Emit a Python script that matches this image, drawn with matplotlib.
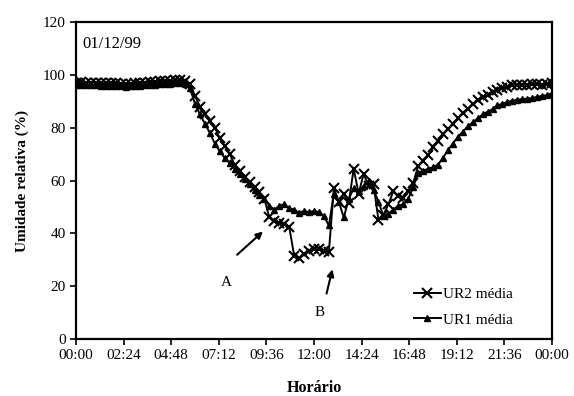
import numpy as np
import matplotlib
matplotlib.use('Agg')
import matplotlib.pyplot as plt

plt.rcParams['font.family'] = ['Liberation Serif', 'DejaVu Serif']

# leituras a cada 15 min, 00:00 ate 24:00
horas = np.arange(0, 24.01, 0.25)

ur2 = [97.0, 97.2, 97.0, 97.1,
       97.0, 96.8, 96.9, 97.0,
       96.8, 96.6, 96.5, 96.6,
       96.8, 97.0, 97.1, 97.3,
       97.4, 97.5, 97.8, 97.6,
       97.9, 98.0, 97.6, 96.5,
       92.0, 88.0, 85.0, 82.5,
       80.0, 76.0, 73.0, 70.0,
       66.0, 63.5, 61.5, 59.5,
       57.5, 55.5, 53.0, 46.0,
       44.5, 44.0, 43.5, 42.5,
       31.5, 30.5, 32.0, 33.5,
       34.0, 34.0, 33.5, 33.0,
       57.0, 52.0, 55.0, 51.5,
       64.5, 55.0, 62.5, 58.0,
       58.5, 45.0, 47.0, 51.0,
       56.0, 54.0, 53.5, 56.0,
       59.0, 65.5, 67.5, 69.5,
       72.5, 75.0, 77.5, 79.5,
       81.5, 83.5, 85.5, 87.2,
       89.0, 90.5, 91.5, 92.5,
       93.5, 94.4, 95.0, 95.5,
       96.0, 96.2, 96.3, 96.2,
       96.4, 96.5, 96.3, 96.6,
       97.0]

ur1 = [96.0, 96.2, 96.0, 96.1,
       96.0, 95.8, 95.8, 95.9,
       95.8, 95.6, 95.5, 95.6,
       95.7, 95.9, 96.0, 96.2,
       96.3, 96.4, 96.6, 96.5,
       96.8, 97.0, 96.5, 95.0,
       89.0, 85.0, 81.5, 78.0,
       74.0, 71.0, 68.5, 66.5,
       64.5, 62.5, 60.5, 58.5,
       56.5, 54.5, 53.0, 50.5,
       49.0, 50.5, 51.0, 49.5,
       49.0, 47.8, 48.5, 48.0,
       48.5, 48.0, 46.5, 43.0,
       55.0, 52.0, 46.0, 53.0,
       57.0, 56.0, 58.0, 60.0,
       56.5, 52.0, 46.5, 47.5,
       49.0, 50.5, 51.0, 53.0,
       57.5, 63.0, 63.5, 64.5,
       65.0, 66.0, 68.5, 71.5,
       74.0, 76.5, 78.5, 80.5,
       82.0, 83.5, 85.0, 86.0,
       87.0, 88.5, 89.0, 89.8,
       90.2, 90.6, 90.8, 91.0,
       91.2, 91.7, 92.0, 92.4,
       93.0]

xticks = [0, 2.4, 4.8, 7.2, 9.6, 12, 14.4, 16.8, 19.2, 21.6, 24]
xlabels = ['00:00', '02:24', '04:48', '07:12', '09:36', '12:00',
           '14:24', '16:48', '19:12', '21:36', '00:00']

fig = plt.figure(figsize=(5.74, 3.96), dpi=100)
ax = fig.add_axes([0.1324, 0.1439, 0.8293, 0.8005])

ax.plot(horas, ur2, color='black', lw=1.4, marker='x', ms=7, mew=1.5,
        label='UR2 média')
ax.plot(horas, ur1, color='black', lw=1.4, marker='^', ms=4.5,
        label='UR1 média')

ax.set_xlim(0, 24)
ax.set_ylim(0, 120)
ax.set_xticks(xticks)
ax.set_xticklabels(xlabels)
ax.set_yticks(range(0, 121, 20))
ax.tick_params(direction='out', length=4, width=1.2, labelsize=11)
for s in ax.spines.values():
    s.set_linewidth(1.6)

ax.set_xlabel('Horário', fontsize=11.5, fontweight='bold', labelpad=13)
ax.set_ylabel('Umidade relativa (%)', fontsize=11, fontweight='bold',
              labelpad=10)

ax.text(0.3, 111.5, '01/12/99', fontsize=12, va='center', ha='left')

ax.annotate('', xy=(9.53, 41.4), xytext=(8.02, 31.2),
            arrowprops=dict(arrowstyle='-|>', color='black', lw=1.5,
                            mutation_scale=10))
ax.annotate('', xy=(12.96, 27.4), xytext=(12.6, 16.2),
            arrowprops=dict(arrowstyle='-|>', color='black', lw=1.5,
                            mutation_scale=10))
ax.text(7.6, 21.4, 'A', fontsize=11, ha='center', va='center')
ax.text(12.3, 10.2, 'B', fontsize=11, ha='center', va='center')

ax.legend(loc='lower right', bbox_to_anchor=(0.93, 0.02), frameon=False,
          fontsize=11, handlelength=1.8, handletextpad=0.1,
          borderaxespad=0.0, labelspacing=0.75)

plt.savefig('out.png', dpi=100)
